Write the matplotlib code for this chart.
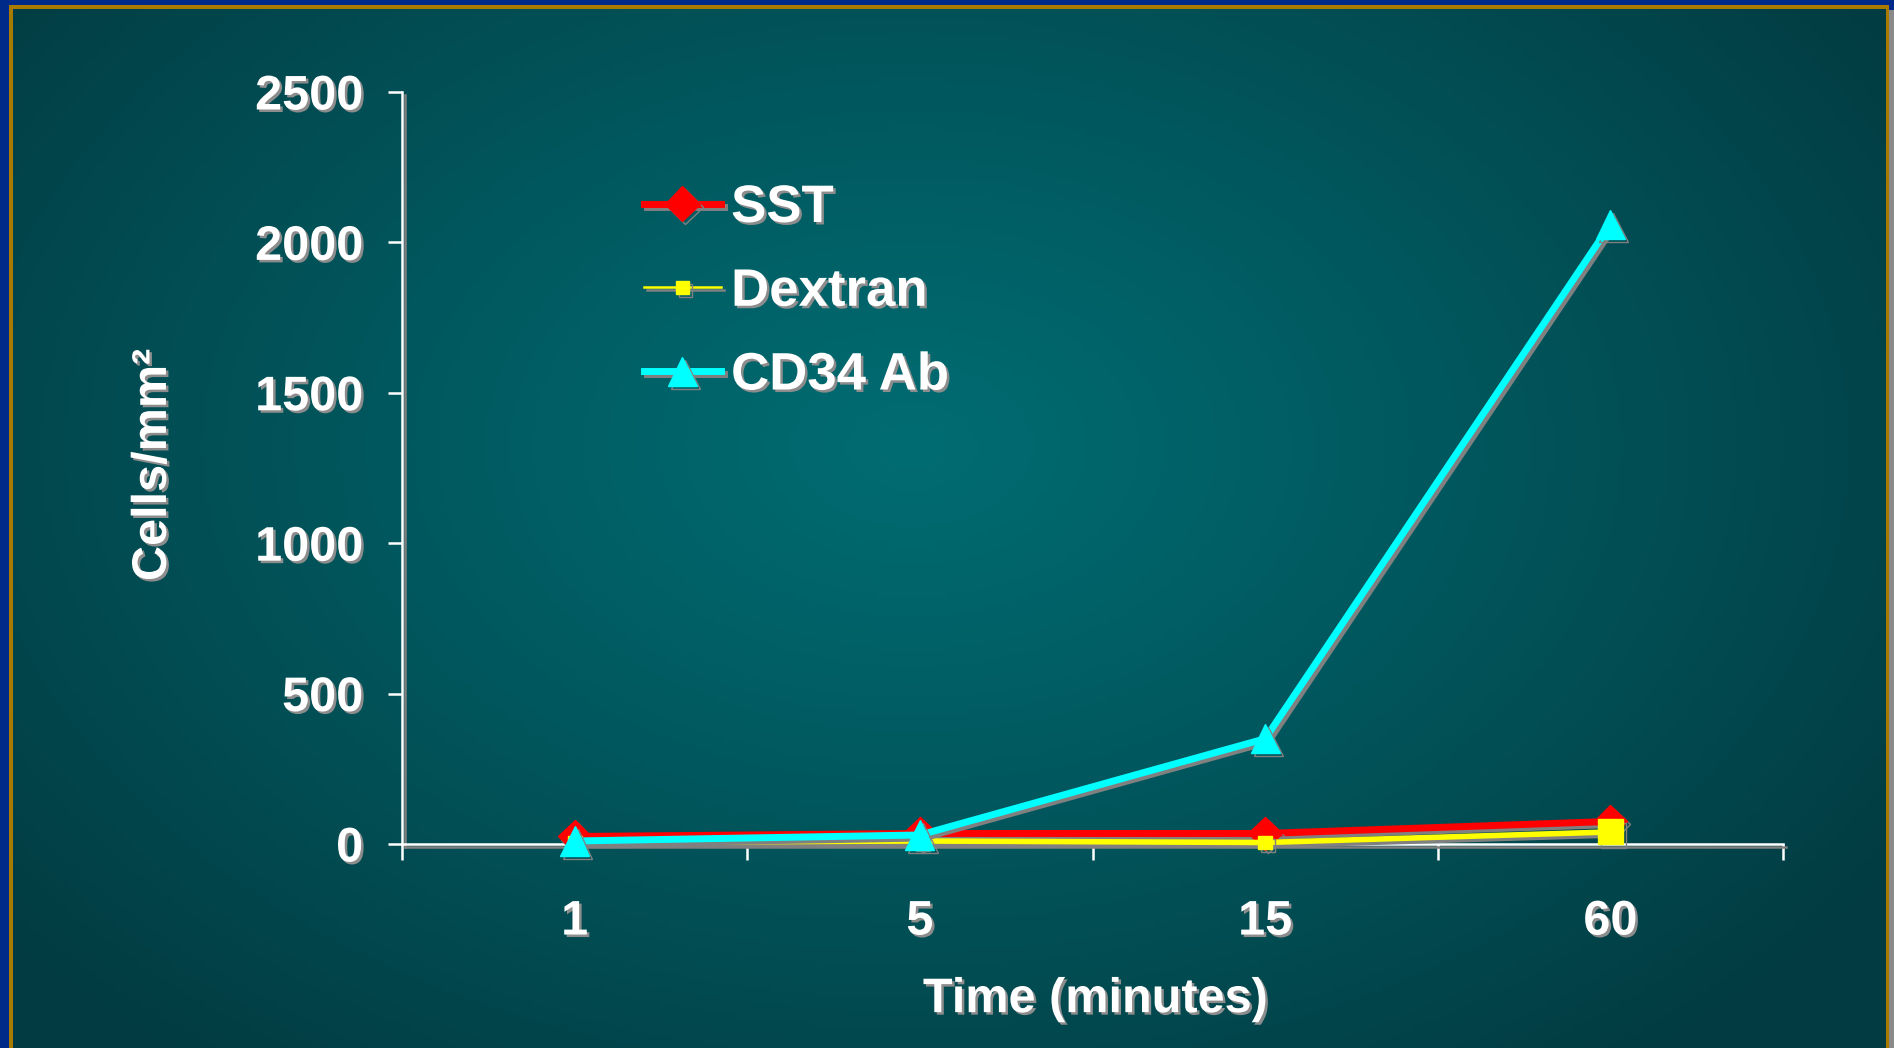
import matplotlib
matplotlib.use('Agg')
import matplotlib.pyplot as plt
import matplotlib.patheffects as pe
from matplotlib.lines import Line2D
from matplotlib.patches import Rectangle
import numpy as np

times = ['1', '5', '15', '60']
sst = [25, 35, 35, 75]
dextran = [5, 10, 5, 40]
cd34 = [10, 30, 350, 2060]
series_names = ['SST', 'Dextran', 'CD34 Ab']
yticks = [0, 500, 1000, 1500, 2000, 2500]

plt.rcParams['font.family'] = ['Liberation Sans', 'DejaVu Sans']
plt.rcParams['font.weight'] = 'bold'

W, H = 1894, 1048
fig = plt.figure(figsize=(W / 100, H / 100), dpi=100)
fig.patch.set_facecolor('#002a8a')

# frame: gray shadow on the right, gold border, gradient panel
fig.patches.append(Rectangle((1889 / W, 0), 5 / W, 1 - 10 / H, transform=fig.transFigure,
                             facecolor='#8a8a8a', edgecolor='none', zorder=-5))
fig.patches.append(Rectangle((9 / W, 0), (1889 - 9) / W, 1 - 5 / H, transform=fig.transFigure,
                             facecolor='#a87a00', edgecolor='none', zorder=-5))

bg = fig.add_axes([13 / W, 0, (1885 - 13) / W, 1 - 9 / H])
bg.set_zorder(-1)
bg.axis('off')
gx, gy = np.meshgrid(np.linspace(0, 1, 400), np.linspace(0, 1, 240))
r = np.sqrt(((gx - 0.48) / 0.62) ** 2 + ((gy - 0.42) / 0.75) ** 2)
t = np.clip(r, 0, 1) ** 1.1
c_in = np.array([0, 108, 114]) / 255
c_out = np.array([2, 60, 66]) / 255
img = c_in[None, None, :] * (1 - t[..., None]) + c_out[None, None, :] * t[..., None]
bg.imshow(img, aspect='auto', extent=(0, 1, 1, 0))
bg.set_xlim(0, 1)
bg.set_ylim(1, 0)

ax = fig.add_axes([402 / W, 1 - 844 / H, (1783 - 402) / W, (844 - 92) / H])
ax.patch.set_alpha(0)

shadow_line = [pe.SimpleLineShadow(offset=(2.2, -2.2), shadow_color='#808080', alpha=1), pe.Normal()]
shadow_text = [pe.withSimplePatchShadow(offset=(1.8, -1.8), shadow_rgbFace='#8c8c8c', alpha=1)]

x = np.arange(len(times))
ax.plot(x, sst, color='#ff0000', lw=5, marker='D', ms=17, clip_on=False,
        path_effects=shadow_line, zorder=3)
ax.plot(x, dextran, color='#ffff00', lw=4, marker='s', ms=10, clip_on=False,
        path_effects=shadow_line, zorder=4)
ax.plot(x[-1:], dextran[-1:], color='#ffff00', lw=0, marker='s', ms=18, clip_on=False,
        path_effects=shadow_line, zorder=4)
ax.plot(x, cd34, color='#00ffff', lw=5, marker='^', ms=21, clip_on=False,
        path_effects=shadow_line, zorder=5)

ax.set_xlim(-0.5, 3.5)
ax.set_ylim(0, 2500)
ax.set_xticks(x)
ax.set_xticklabels(times)
ax.set_xticks(np.arange(-0.5, 4.0, 1.0), minor=True)
ax.set_yticks(yticks)
ax.set_yticklabels([str(v) for v in yticks])

for s in ['top', 'right']:
    ax.spines[s].set_visible(False)
for s in ['left', 'bottom']:
    ax.spines[s].set_color('white')
    ax.spines[s].set_linewidth(1.8)
    ax.spines[s].set_path_effects([pe.SimpleLineShadow(offset=(2, -2), shadow_color='#7f7f7f', alpha=1), pe.Normal()])

ax.tick_params(axis='x', which='major', length=0, pad=40, labelsize=35, labelcolor='white')
ax.tick_params(axis='x', which='minor', length=11.5, width=1.8, color='white', direction='out')
ax.tick_params(axis='y', which='major', length=10, width=1.8, color='white', direction='out',
               pad=18, labelsize=35, labelcolor='white')
for lab in ax.get_xticklabels() + ax.get_yticklabels():
    lab.set_fontweight('bold')
    lab.set_path_effects(shadow_text)

ax.set_ylabel('Cells/mm²', fontsize=35, fontweight='bold', color='white', va='center',
              path_effects=shadow_text)
ax.yaxis.set_label_coords(-0.180, 0.504)
ax.set_xlabel('Time (minutes)', fontsize=35, fontweight='bold', color='white', va='center',
              path_effects=shadow_text)
ax.xaxis.set_label_coords(0.502, -0.207)

handles = [
    Line2D([], [], color='#ff0000', lw=5, marker='D', ms=18),
    Line2D([], [], color='#ffff00', lw=1.8, marker='s', ms=9),
    Line2D([], [], color='#00ffff', lw=5, marker='^', ms=21),
]
leg = fig.legend(handles, series_names, loc='upper left', bbox_to_anchor=(644 / W, 1 - 183 / H),
                 frameon=False, fontsize=38, handlelength=1.45, handletextpad=0.2,
                 labelspacing=0.64, borderpad=0, borderaxespad=0)
for txt in leg.get_texts():
    txt.set_color('white')
    txt.set_fontweight('bold')
    txt.set_path_effects(shadow_text)
for ln in leg.get_lines():
    ln.set_path_effects(shadow_line)

fig.savefig('out.png', dpi=100, facecolor=fig.get_facecolor())
